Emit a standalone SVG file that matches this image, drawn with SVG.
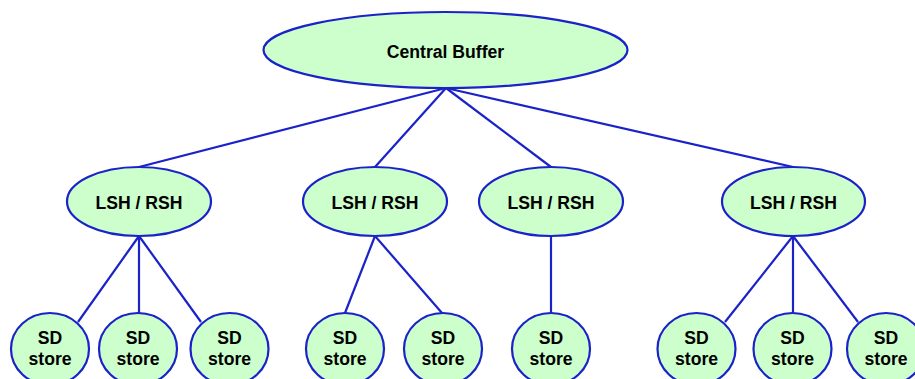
<svg xmlns="http://www.w3.org/2000/svg" width="915" height="379" viewBox="0 0 915 379">
  <style>
    .node ellipse { fill: #ccffcc; stroke: #1a22c8; stroke-width: 2.2; }
    .node text { font-family: "Liberation Sans", Arial, sans-serif; font-weight: bold; font-size: 17.6px; fill: #000; text-anchor: middle; }
    #connectors line { stroke: #1a22c8; stroke-width: 2.2; }
  </style>
  <rect width="915" height="379" fill="#ffffff"/>

  <g id="connectors">
    <line x1="446" y1="88" x2="139" y2="167"/>
    <line x1="446" y1="88" x2="375" y2="167"/>
    <line x1="446" y1="88" x2="551" y2="167"/>
    <line x1="446" y1="88" x2="793" y2="167"/>

    <line x1="139" y1="236" x2="78" y2="322"/>
    <line x1="139" y1="236" x2="139" y2="313"/>
    <line x1="139" y1="236" x2="201" y2="322"/>

    <line x1="375" y1="236" x2="345" y2="313"/>
    <line x1="375" y1="236" x2="442" y2="313"/>

    <line x1="551" y1="236" x2="551" y2="313"/>

    <line x1="793" y1="236" x2="725" y2="322"/>
    <line x1="793" y1="236" x2="793" y2="313"/>
    <line x1="793" y1="236" x2="858" y2="322"/>
  </g>

  <g id="central-buffer" class="node">
    <ellipse cx="445.5" cy="50" rx="182" ry="38"/>
    <text x="445.5" y="57.5">Central Buffer</text>
  </g>

  <g id="shift-1" class="node">
    <ellipse cx="139" cy="201.5" rx="72" ry="34.5"/>
    <text x="139" y="208.5">LSH / RSH</text>
  </g>
  <g id="shift-2" class="node">
    <ellipse cx="375" cy="201.5" rx="72" ry="34.5"/>
    <text x="375" y="208.5">LSH / RSH</text>
  </g>
  <g id="shift-3" class="node">
    <ellipse cx="551" cy="201.5" rx="72" ry="34.5"/>
    <text x="551" y="208.5">LSH / RSH</text>
  </g>
  <g id="shift-4" class="node">
    <ellipse cx="793.5" cy="201.5" rx="71.5" ry="34.5"/>
    <text x="793.5" y="208.5">LSH / RSH</text>
  </g>

  <g id="store-1" class="node">
    <ellipse cx="50" cy="349" rx="39" ry="36"/>
    <text x="50" y="344">SD</text><text x="50" y="365">store</text>
  </g>
  <g id="store-2" class="node">
    <ellipse cx="138" cy="349" rx="39" ry="36"/>
    <text x="138" y="344">SD</text><text x="138" y="365">store</text>
  </g>
  <g id="store-3" class="node">
    <ellipse cx="229.5" cy="349" rx="39" ry="36"/>
    <text x="229.5" y="344">SD</text><text x="229.5" y="365">store</text>
  </g>
  <g id="store-4" class="node">
    <ellipse cx="345" cy="349" rx="39" ry="36"/>
    <text x="345" y="344">SD</text><text x="345" y="365">store</text>
  </g>
  <g id="store-5" class="node">
    <ellipse cx="443" cy="349" rx="39" ry="36"/>
    <text x="443" y="344">SD</text><text x="443" y="365">store</text>
  </g>
  <g id="store-6" class="node">
    <ellipse cx="551" cy="349" rx="39" ry="36"/>
    <text x="551" y="344">SD</text><text x="551" y="365">store</text>
  </g>
  <g id="store-7" class="node">
    <ellipse cx="696.5" cy="349" rx="39" ry="36"/>
    <text x="696.5" y="344">SD</text><text x="696.5" y="365">store</text>
  </g>
  <g id="store-8" class="node">
    <ellipse cx="792.5" cy="349" rx="39" ry="36"/>
    <text x="792.5" y="344">SD</text><text x="792.5" y="365">store</text>
  </g>
  <g id="store-9" class="node">
    <ellipse cx="886" cy="349" rx="39" ry="36"/>
    <text x="886" y="344">SD</text><text x="886" y="365">store</text>
  </g>
</svg>
